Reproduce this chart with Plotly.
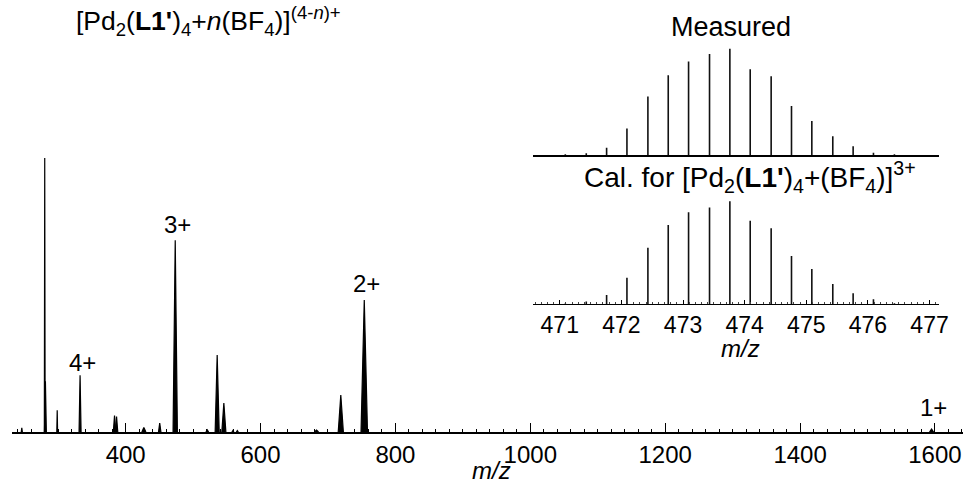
import plotly.graph_objects as go

W, H = 972, 483
FONT = "Liberation Sans, Arial, Helvetica, sans-serif"

# ---- main spectrum (m/z, relative intensity, half-width of peak in m/z) ----
main_mz = [246, 280, 281, 298.5, 332.4, 383.5, 386.5, 427, 450.5, 473.5, 521,
           535.7, 545.6, 559, 565.6, 683, 719, 753.8, 1595]
main_int = [1.5, 100, 18.5, 7.9, 20.7, 6.0, 5.6, 1.6, 3.3, 70, 0.8,
            28.1, 10.6, 0.5, 0.5, 0.7, 13.5, 48.2, 1.1]
main_hw = [0.8, 0.6, 1.4, 0.6, 1.5, 1.8, 1.8, 3, 1.8, 3.2, 2,
           3.0, 3.0, 1.5, 1.5, 3, 3.8, 4.8, 3]

charge_labels = ["4+", "3+", "2+", "1+"]
charge_mz = [332.4, 473.5, 753.8, 1595]
charge_int = [20.7, 70, 48.2, 1.1]

# ---- isotope pattern insets ----
iso_mz = [471.09, 471.43, 471.76, 472.09, 472.43, 472.76, 473.09, 473.43, 473.76,
          474.09, 474.43, 474.76, 475.09, 475.43, 475.76, 476.09, 476.43]
meas_int = [0.6, 1.6, 6.9, 25, 55, 75, 88, 95, 100, 80.6, 74, 46, 32, 17.6, 8.2, 2.2, 0.6]
calc_int = [0.8, 2.6, 9.1, 25.9, 55, 77, 89.3, 93.9, 100, 81.2, 73.8, 46.9, 34.3,
            19.7, 10.7, 4.9, 1.0]


def px(x):
    return x / W


def py(y):
    return (H - y) / H


fig = go.Figure()

# main spectrum as filled peaks
xs, ys = [], []
for c, h, w in zip(main_mz, main_int, main_hw):
    xs += [c - w, c, c + w, None]
    ys += [0, h, 0, None]
fig.add_trace(go.Scatter(x=xs, y=ys, mode="lines", fill="toself", fillcolor="black",
                         line=dict(color="black", width=1.2), xaxis="x", yaxis="y",
                         hoverinfo="skip", showlegend=False))


def sticks(mz, inten):
    sx, sy = [], []
    for c, h in zip(mz, inten):
        sx += [c, c, None]
        sy += [0, h, None]
    return sx, sy


mx, my = sticks(iso_mz, meas_int)
fig.add_trace(go.Scatter(x=mx, y=my, mode="lines", line=dict(color="#111", width=1.6),
                         xaxis="x2", yaxis="y2", hoverinfo="skip", showlegend=False))
cx, cy = sticks(iso_mz, calc_int)
fig.add_trace(go.Scatter(x=cx, y=cy, mode="lines", line=dict(color="#111", width=1.6),
                         xaxis="x3", yaxis="y3", hoverinfo="skip", showlegend=False))

main_range = [231.3, 1641.6]
main_dom = [px(12), 1.0]
inset_range = [470.566, 477.157]
inset_dom = [px(538), px(948)]

fig.update_layout(
    width=W, height=H, margin=dict(l=0, r=0, t=0, b=0),
    paper_bgcolor="white", plot_bgcolor="white",
    font=dict(family=FONT, size=24, color="black"),
    xaxis=dict(domain=main_dom, range=main_range, anchor="y", showline=True,
               linecolor="black", linewidth=1.5, showgrid=False, zeroline=False,
               ticks="inside", ticklen=9, tickwidth=1.2, tickcolor="black",
               tick0=0, dtick=200, tickfont=dict(size=24, family=FONT),
               minor=dict(ticks="inside", ticklen=3, tickwidth=1, tickcolor="black",
                          tick0=0, dtick=20, showgrid=False)),
    xaxis4=dict(domain=main_dom, range=main_range, anchor="y", overlaying="x",
                showline=False, showgrid=False, zeroline=False, ticks="inside",
                ticklen=6, tickwidth=1.2, tickcolor="black", tick0=0, dtick=100,
                showticklabels=False),
    yaxis=dict(domain=[py(432), py(150)], range=[0, 102.9], visible=False),
    xaxis2=dict(domain=inset_dom, range=inset_range, anchor="y2", showline=True,
                linecolor="black", linewidth=1.5, showgrid=False, zeroline=False,
                ticks="", showticklabels=False),
    yaxis2=dict(domain=[py(155), py(45)], range=[0, 103.5], visible=False),
    xaxis3=dict(domain=inset_dom, range=inset_range, anchor="y3", showline=True,
                linecolor="black", linewidth=1, showgrid=False, zeroline=False,
                ticks="inside", ticklen=4, tickwidth=1, tickcolor="black",
                tick0=0, dtick=1, tickfont=dict(size=23, family=FONT),
                minor=dict(ticks="inside", ticklen=2, tickwidth=0.8, tickcolor="#444",
                           tick0=0, dtick=0.1, showgrid=False)),
    yaxis3=dict(domain=[py(304.3), py(200)], range=[0, 101.3], visible=False),
)

ann = [
    dict(text="[Pd<sub>2</sub>(<b>L1'</b>)<sub>4</sub>+<i>n</i>(BF<sub>4</sub>)]<sup>(4-<i>n</i>)+</sup>",
         x=px(210), y=py(21), size=26.5),
    dict(text="Measured", x=px(738), y=py(27), size=27),
    dict(text="Cal. for [Pd<sub>2</sub>(<b>L1'</b>)<sub>4</sub>+(BF<sub>4</sub>)]<sup>3+</sup>",
         x=px(757), y=py(177), size=28),
    dict(text="<i>m/z</i>", x=px(747), y=py(348), size=24),
    dict(text="<i>m/z</i>", x=px(496), y=py(470), size=24),
]
for a in ann:
    size = a.pop("size")
    fig.add_annotation(xref="paper", yref="paper", xanchor="center", yanchor="middle",
                       showarrow=False, font=dict(family=FONT, size=size, color="black"), **a)

for lab, m, h, s in zip(charge_labels, charge_mz, charge_int, [13, 16, 16, 21]):
    fig.add_annotation(text=lab, x=m, y=h, xref="x", yref="y", xshift=2, yshift=s,
                       xanchor="center", yanchor="middle", showarrow=False,
                       font=dict(family=FONT, size=24, color="black"))

fig.write_html("out.html")
